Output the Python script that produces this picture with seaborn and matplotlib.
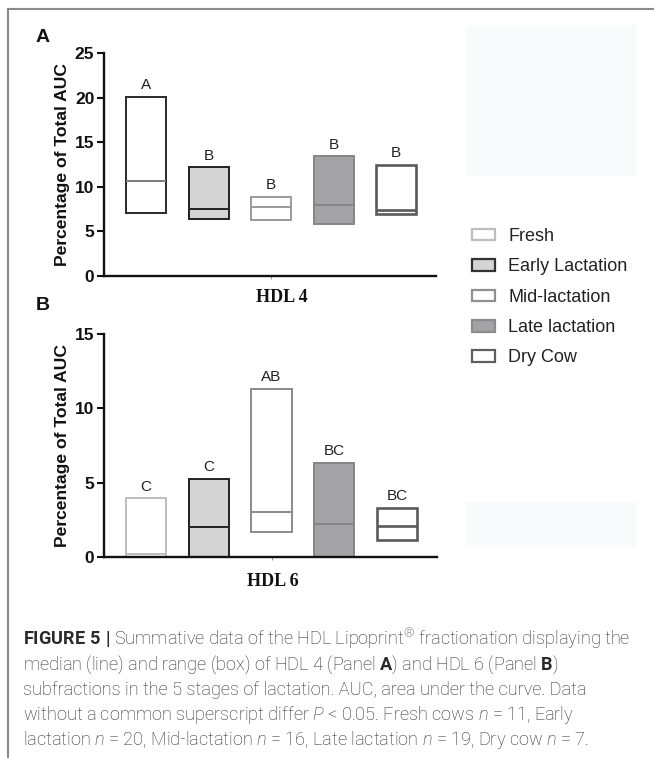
import numpy as np
import pandas as pd
import matplotlib
matplotlib.use("Agg")
import matplotlib.pyplot as plt
import seaborn as sns
from matplotlib.patches import Patch, Rectangle
from matplotlib.lines import Line2D

# ---------------- data ----------------
stages = ["Fresh", "Early Lactation", "Mid-lactation", "Late lactation", "Dry Cow"]

hdl4_min = [7.1, 6.35, 6.3, 5.8, 7.0]
hdl4_median = [10.6, 7.5, 7.7, 8.0, 7.4]
hdl4_max = [20.1, 12.2, 8.9, 13.4, 12.5]
hdl4_letters = ["A", "B", "B", "B", "B"]
hdl4_ticks = [0, 5, 10, 15, 20, 25]

hdl6_min = [0.0, 0.0, 1.65, 0.0, 1.15]
hdl6_median = [0.22, 2.0, 3.0, 2.25, 2.1]
hdl6_max = [3.95, 5.25, 11.3, 6.35, 3.3]
hdl6_letters = ["C", "C", "AB", "BC", "BC"]
hdl6_ticks = [0, 5, 10, 15]

fill_colors = ["#ffffff", "#d4d4d4", "#ffffff", "#a3a3a5", "#ffffff"]
edge_a = ["#2a2a2a", "#222222", "#9a9a9a", "#858585", "#5a5a5a"]
median_a = ["#7a7a7a", "#222222", "#9a9a9a", "#858585", "#5a5a5a"]
edge_b = ["#bdbdbd", "#222222", "#8a8a8a", "#858585", "#5a5a5a"]
legend_edges = ["#bdbdbd", "#333333", "#8f8f8f", "#8a8a8a", "#5f5f5f"]

caption_lines = [
    r"$\mathbf{FIGURE\ 5\ |}$ Summative data of the HDL Lipoprint$^{\circledR}$ fractionation displaying the",
    r"median (line) and range (box) of HDL 4 (Panel $\mathbf{A}$) and HDL 6 (Panel $\mathbf{B}$)",
    r"subfractions in the 5 stages of lactation. AUC, area under the curve. Data",
    r"without a common superscript differ $P$ < 0.05. Fresh cows $n$ = 11, Early",
    r"lactation $n$ = 20, Mid-lactation $n$ = 16, Late lactation $n$ = 19, Dry cow $n$ = 7.",
]

# ---------------- style ----------------
sns.set_theme(style="white")
plt.rcParams["font.family"] = ["Liberation Sans", "DejaVu Sans"]
plt.rcParams["mathtext.fontset"] = "custom"
plt.rcParams["mathtext.rm"] = "Roboto:light"
plt.rcParams["mathtext.bf"] = "Roboto:bold"
plt.rcParams["mathtext.it"] = "Roboto:italic:light"

W, H = 654, 758
fig = plt.figure(figsize=(W / 100, H / 100), dpi=100)
fig.patch.set_facecolor("white")


def px_rect(x0, y_top, x1, y_bot):
    return [x0 / W, 1 - y_bot / H, (x1 - x0) / W, (y_bot - y_top) / H]


def box_table(lo, med, hi):
    rows = []
    for s, a, m, b in zip(stages, lo, med, hi):
        for v in (a, a, m, b, b):
            rows.append({"stage": s, "value": v})
    return pd.DataFrame(rows)


def draw_panel(ax, lo, med, hi, letters, ticks, edges, medians, xlabel, xlabel_px):
    df = box_table(lo, med, hi)
    sns.boxplot(data=df, x="stage", y="value", hue="stage", order=stages,
                hue_order=stages, palette=fill_colors, saturation=1, width=0.64,
                whis=0, showcaps=False, showfliers=False, linewidth=1.4,
                legend=False, ax=ax)
    for i, cont in enumerate(ax.containers):
        for b in cont.boxes:
            b.set_edgecolor(edges[i])
            b.set_linewidth(1.9 if i == 4 else 1.4)
        for m in cont.medians:
            m.set_color(medians[i])
            m.set_linewidth(1.9 if i == 4 else 1.4)
        for w in cont.whiskers:
            w.set_visible(False)
    for i, (h, t) in enumerate(zip(hi, letters)):
        ax.annotate(t, (i, h), xytext=(0, 5.5), textcoords="offset points",
                    ha="center", va="baseline", fontsize=11, color="#222222")
    ax.set_ylim(ticks[0], ticks[-1])
    ax.set_xlim(-0.672, 4.64)
    ax.set_yticks(ticks)
    ax.set_yticklabels([str(t) for t in ticks], fontweight="bold", fontsize=12.5)
    ax.set_xticks([2])
    ax.set_xticklabels([""])
    ax.set_xlabel("")
    ax.set_ylabel("Percentage of Total AUC", fontweight="bold", fontsize=12.6,
                  labelpad=3.5, color="#111111")
    ax.tick_params(axis="y", length=5, width=1.5, pad=2, colors="#111111", left=True)
    ax.tick_params(axis="x", length=2.5, width=0.8, colors="#999999", bottom=True)
    sns.despine(ax=ax)
    for sp in ("left", "bottom"):
        ax.spines[sp].set_linewidth(1.7)
        ax.spines[sp].set_color("#111111")
    ax.set_facecolor("none")
    fig.text(xlabel_px[0] / W, 1 - xlabel_px[1] / H, xlabel, ha="center",
             va="center", family=["Liberation Serif"], fontweight="bold",
             fontsize=13, color="#111111")


# faint background artefacts
fig.patches.append(Rectangle((465 / W, 1 - 176 / H), 171 / W, 151 / H,
                             transform=fig.transFigure, facecolor="#f9fafc",
                             edgecolor="none", zorder=0))
fig.patches.append(Rectangle((465 / W, 1 - 547 / H), 171 / W, 45 / H,
                             transform=fig.transFigure, facecolor="#f9fafc",
                             edgecolor="none", zorder=0))

ax_a = fig.add_axes(px_rect(104, 53, 436, 276))
draw_panel(ax_a, hdl4_min, hdl4_median, hdl4_max, hdl4_letters, hdl4_ticks,
           edge_a, median_a, "HDL 4", (282, 298))
ax_b = fig.add_axes(px_rect(104, 334, 437, 557))
draw_panel(ax_b, hdl6_min, hdl6_median, hdl6_max, hdl6_letters, hdl6_ticks,
           edge_b, edge_b, "HDL 6", (273, 582))

# panel letters
fig.text(43 / W, 1 - 37 / H, "A", ha="center", va="center", fontweight="bold",
         fontsize=14, color="#111111")
fig.text(43 / W, 1 - 305 / H, "B", ha="center", va="center", fontweight="bold",
         fontsize=14, color="#111111")

# legend
handles = [Patch(facecolor=f, edgecolor=e, linewidth=1.6)
           for f, e in zip(fill_colors, legend_edges)]
fig.legend(handles, stages, loc="upper left",
           bbox_to_anchor=(472 / W, 1 - 228 / H), frameon=False, fontsize=13,
           handlelength=1.28, handleheight=0.61, handletextpad=0.72,
           labelspacing=0.74, borderpad=0, borderaxespad=0,
           labelcolor="#222222")

# frame lines
fig.add_artist(Line2D([8 / W, 8 / W], [0, 1 - 9 / H], transform=fig.transFigure,
                      color="#8a8a8a", linewidth=1.5))
fig.add_artist(Line2D([8 / W, 1], [1 - 9 / H, 1 - 9 / H], transform=fig.transFigure,
                      color="#8a8a8a", linewidth=1.5))

# caption
baselines = [645, 670, 695, 720, 745]
for line, yb in zip(caption_lines, baselines):
    fig.text(23 / W, 1 - yb / H, line, ha="left", va="baseline",
             family=["Roboto", "DejaVu Sans"], fontweight="light",
             fontsize=13.1, color="#2a2a2a")

fig.savefig("out.png", dpi=100, facecolor="white")
